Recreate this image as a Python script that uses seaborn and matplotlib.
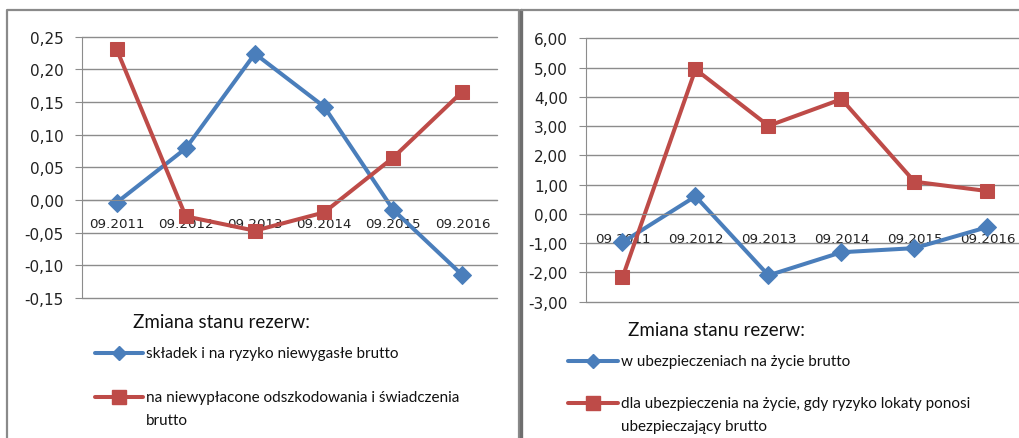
import matplotlib
matplotlib.use('Agg')
import matplotlib.pyplot as plt
import seaborn as sns
import pandas as pd
from matplotlib.lines import Line2D
from matplotlib.ticker import FixedLocator, FuncFormatter

# --- data ---
periods = ['09.2011', '09.2012', '09.2013', '09.2014', '09.2015', '09.2016']
skladki = [-0.004, 0.079, 0.224, 0.143, -0.015, -0.115]
odszkodowania = [0.231, -0.025, -0.047, -0.019, 0.065, 0.166]
zycie = [-0.97, 0.60, -2.10, -1.31, -1.17, -0.45]
lokaty = [-2.17, 4.94, 3.01, 3.92, 1.10, 0.78]

legend_title = 'Zmiana stanu rezerw:'
left_labels = ['składek i na ryzyko niewygasłe brutto',
               'na niewypłacone odszkodowania i świadczenia\nbrutto']
right_labels = ['w ubezpieczeniach na życie brutto',
                'dla ubezpieczenia na życie, gdy ryzyko lokaty ponosi\nubezpieczający brutto']

BLUE = '#4A7EBB'
RED = '#BE4B48'
GRID = '#8c8c8c'
W, H = 1020, 439

sns.set_style('white')
plt.rcParams['font.family'] = ['DejaVu Sans']
LEG_FONT = ['Lato', 'DejaVu Sans']


def fx(px):
    return px / W


def fy(py):
    return 1 - py / H


def comma(v, pos=None):
    return f'{v:.2f}'.replace('.', ',')


def draw_panel(ax, blue_vals, red_vals, ylim, ystep, label_pad):
    df = pd.DataFrame({'okres': periods, 'blue': blue_vals, 'red': red_vals})
    sns.lineplot(data=df, x='okres', y='blue', ax=ax, color=BLUE, lw=2.9,
                 marker='D', markersize=9.5, markeredgecolor=BLUE, legend=False)
    sns.lineplot(data=df, x='okres', y='red', ax=ax, color=RED, lw=2.9,
                 marker='s', markersize=10.5, markeredgecolor=RED, legend=False)
    ax.set_xlim(-0.5, 5.5)
    ax.set_ylim(*ylim)
    n = int(round((ylim[1] - ylim[0]) / ystep))
    ax.yaxis.set_major_locator(FixedLocator([ylim[0] + i * ystep for i in range(n + 1)]))
    ax.yaxis.set_major_formatter(FuncFormatter(comma))
    ax.grid(axis='y', color=GRID, lw=1.0)
    for gl in ax.get_ygridlines():
        gl.set_clip_on(False)
    ax.set_axisbelow(True)
    for s in ['top', 'right']:
        ax.spines[s].set_visible(False)
    ax.spines['left'].set_color(GRID)
    ax.spines['bottom'].set_color(GRID)
    ax.spines['bottom'].set_position(('data', 0))
    ax.xaxis.set_minor_locator(FixedLocator([i + 0.5 for i in range(6)]))
    ax.tick_params(axis='x', which='major', length=0, pad=label_pad,
                   labelsize=9.6, labelcolor='#222222')
    ax.tick_params(axis='x', which='minor', length=5, color=GRID, direction='out')
    ax.tick_params(axis='y', length=5, color=GRID, pad=8, labelsize=11,
                   labelcolor='#222222', left=True)
    ax.set_xlabel('')
    ax.set_ylabel('')


def draw_legend(fig, title_xy, hx, ys, text_x, labels, line_gap=23):
    fig.text(fx(title_xy[0]), fy(title_xy[1]), legend_title, fontsize=13.5,
             family=LEG_FONT, va='center', ha='left', color='#111111')
    styles = [(BLUE, 'D', 7.5), (RED, 's', 9.5)]
    for (color, mk, ms), y, lab in zip(styles, ys, labels):
        fig.add_artist(Line2D([fx(hx[0]), fx(hx[1])], [fy(y), fy(y)],
                              transform=fig.transFigure, color=color, lw=2.9))
        fig.add_artist(Line2D([fx((hx[0] + hx[1]) / 2)], [fy(y)],
                              transform=fig.transFigure, color=color, marker=mk,
                              markersize=ms, lw=0))
        for k, line in enumerate(lab.split('\n')):
            fig.text(fx(text_x), fy(y + k * line_gap), line, fontsize=11,
                     family=LEG_FONT, va='center', ha='left', color='#111111')


fig = plt.figure(figsize=(W / 100, H / 100), dpi=100)

# panel frames
fig.add_artist(Line2D([fx(7), fx(7), fx(519), fx(519)],
                      [0, fy(11), fy(11), 0], transform=fig.transFigure,
                      color='#8a8a8a', lw=1.6))
fig.add_artist(Line2D([fx(521), fx(521)], [0, fy(11)], transform=fig.transFigure,
                      color='#6e6e6e', lw=2.4))
fig.add_artist(Line2D([fx(521), 1], [fy(11), fy(11)], transform=fig.transFigure,
                      color='#8a8a8a', lw=1.6))

ax1 = fig.add_axes([fx(82), fy(299), fx(497 - 82), (299 - 37.7) / H])
draw_panel(ax1, skladki, odszkodowania, (-0.15, 0.25), 0.05, 12)

ax2 = fig.add_axes([fx(586), fy(302.7), fx(1024 - 586), (302.7 - 39.3) / H])
draw_panel(ax2, zycie, lokaty, (-3.0, 6.0), 1.0, 13)

draw_legend(fig, (133, 323), (95, 143), (354, 398), 146, left_labels)
draw_legend(fig, (628, 331), (568, 618), (362, 404), 621, right_labels)

fig.savefig('out.png', dpi=100)
